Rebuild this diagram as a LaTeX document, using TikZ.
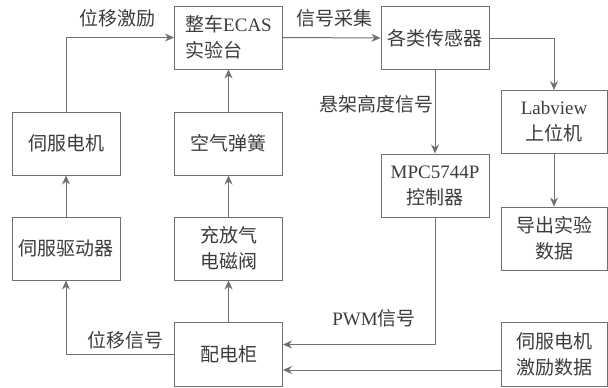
\documentclass[tikz,border=0pt]{standalone}
\usepackage{fontspec}
\setmainfont{Liberation Serif}
\newfontfamily\cjk{Noto Sans CJK SC}
\usetikzlibrary{arrows.meta}
\definecolor{linegray}{HTML}{707070}
\definecolor{textgray}{HTML}{3C3C3C}
\begin{document}
\begin{tikzpicture}[x=1pt,y=-1pt,
  box/.style={draw=linegray, line width=1pt, text=textgray, minimum width=108pt, minimum height=63pt, inner sep=0pt, font=\fontsize{19}{28}\selectfont, align=center},
  lab/.style={text=textgray, inner sep=0pt, font=\fontsize{19}{24}\selectfont},
  conn/.style={draw=linegray, line width=1pt, -{Stealth[length=9pt,width=8pt]}}]
\useasboundingbox (0,0) rectangle (608,388);
\node[box, align=left] (ecas) at (228.5,37.5) {\cjk 整车\rmfamily ECAS\\[-2pt]\cjk 实验台};
\node[box] (sensor) at (435,38) {\cjk 各类传感器};
\node[box] (motor) at (66,143.5) {\cjk 伺服电机};
\node[box] (spring) at (228.5,143.5) {\cjk 空气弹簧};
\node[box, minimum width=106pt] (labview) at (554,122) {Labview\\[-2pt]\cjk 上位机};
\node[box] (mpc) at (435,185.5) {MPC5744P\\[-2pt]\cjk 控制器};
\node[box, minimum width=106pt] (export) at (554,238.5) {\cjk 导出实验\\[-2pt]\cjk 数据};
\node[box] (drive) at (66,248.5) {\cjk 伺服驱动器};
\node[box] (valve) at (228.5,248.5) {\cjk 充放气\\[-2pt]\cjk 电磁阀};
\node[box, minimum height=64pt] (cab) at (228.5,354.5) {\cjk 配电柜};
\node[box, minimum width=106pt, minimum height=64pt] (excite) at (554,354.5) {\cjk 伺服电机\\[-2pt]\cjk 激励数据};

\node[lab] (l1) at (117,18) {\cjk 位移激励};
\node[lab] (l2) at (334,18) {\cjk 信号采集};
\node[lab] (l3) at (376.5,104) {\cjk 悬架高度信号};
\node[lab] (l4) at (125,340) {\cjk 位移信号};
\node[lab] (l5) at (374,318) {PWM\cjk 信号};

\draw[conn] (motor.north) |- (ecas.west);
\draw[conn] (spring) -- (ecas);
\draw[conn] (ecas) -- (sensor);
\draw[conn] (sensor.east) -| (labview.north);
\draw[conn] (sensor) -- (mpc);
\draw[conn] (labview) -- (export);
\draw[conn] (drive) -- (motor);
\draw[conn] (valve) -- (spring);
\draw[conn] (cab) -- (valve);
\draw[conn] (cab.west) -| (drive.south);
\draw[conn] (mpc.south) |- ([yshift=10pt]cab.east);
\draw[conn] ([yshift=-15.5pt]excite.west) -- ([yshift=-15.5pt]cab.east);
\end{tikzpicture}
\end{document}
